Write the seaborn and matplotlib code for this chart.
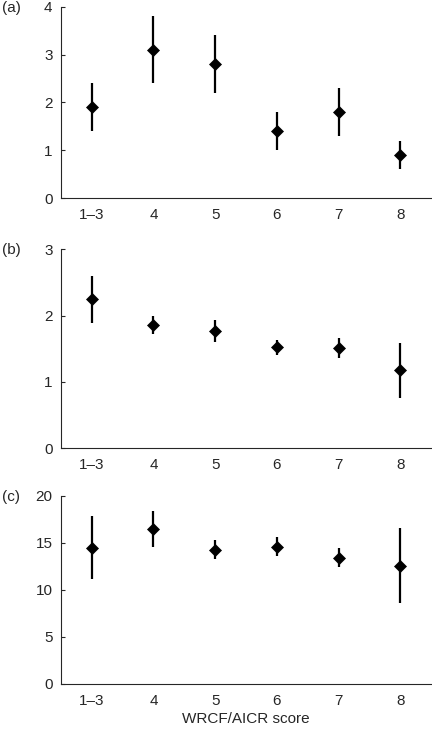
import numpy as np
import pandas as pd
import matplotlib
matplotlib.use("Agg")
import matplotlib.pyplot as plt
import seaborn as sns

# WRCF/AICR score categories
scores = ["1\u20133", "4", "5", "6", "7", "8"]

# panel (a)
a_mean = [1.9, 3.1, 2.8, 1.4, 1.8, 0.9]
a_low = [1.4, 2.4, 2.2, 1.0, 1.3, 0.6]
a_high = [2.4, 3.8, 3.4, 1.8, 2.3, 1.2]

# panel (b)
b_mean = [2.25, 1.86, 1.77, 1.53, 1.51, 1.18]
b_low = [1.89, 1.72, 1.61, 1.41, 1.36, 0.76]
b_high = [2.60, 2.00, 1.94, 1.64, 1.66, 1.59]

# panel (c)
c_mean = [14.45, 16.5, 14.27, 14.58, 13.35, 12.57]
c_low = [11.2, 14.6, 13.3, 13.6, 12.4, 8.6]
c_high = [17.8, 18.4, 15.3, 15.6, 14.4, 16.6]

sns.set_style("ticks")
plt.rcParams["font.family"] = ["Liberation Sans", "DejaVu Sans"]

fig = plt.figure(figsize=(4.32, 7.31), dpi=100)

panels = [
    ("(a)", a_mean, a_low, a_high, [0, 1, 2, 3, 4], [0.141, 0.729, 0.857, 0.2617], 0.989),
    ("(b)", b_mean, b_low, b_high, [0, 1, 2, 3], [0.141, 0.3867, 0.857, 0.2722], 0.658),
    ("(c)", c_mean, c_low, c_high, [0, 5, 10, 15, 20], [0.141, 0.0643, 0.857, 0.2576], 0.320),
]

for label, mean, low, high, yticks, rect, ylab in panels:
    ax = fig.add_axes(rect)
    df = pd.DataFrame({"score": scores, "mean": mean, "low": low, "high": high})
    ax.vlines(np.arange(len(scores)), df["low"], df["high"], color="black", lw=1.6, zorder=2)
    sns.pointplot(data=df, x="score", y="mean", order=scores, color="black",
                  linestyle="none", marker="D", markersize=6.2,
                  markeredgewidth=0.5, errorbar=None, ax=ax, zorder=3)
    ax.set_xlim(-0.5, 5.5)
    ax.set_ylim(yticks[0], yticks[-1])
    ax.set_yticks(yticks)
    ax.set_xlabel("")
    ax.set_ylabel("")
    sns.despine(ax=ax)
    for s in ["left", "bottom"]:
        ax.spines[s].set_linewidth(0.8)
    ax.tick_params(axis="y", direction="in", length=3, width=0.8, pad=6, labelsize=11)
    ax.tick_params(axis="x", length=0, pad=7, labelsize=11)
    fig.text(0.005, ylab, label, fontsize=11, va="center", ha="left")

ax.set_xlabel("WRCF/AICR score", fontsize=11, labelpad=3)

fig.savefig("out.png", dpi=100)
